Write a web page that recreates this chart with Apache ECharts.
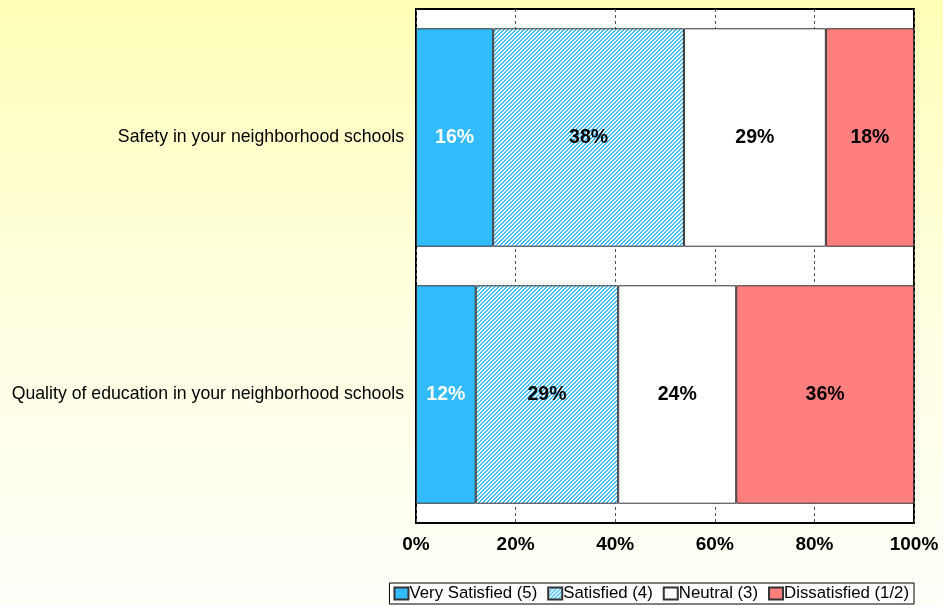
<!DOCTYPE html>
<html>
<head>
<meta charset="utf-8">
<style>
  html, body { margin: 0; padding: 0; }
  #chart { width: 943px; height: 605px; background: linear-gradient(to bottom, #ffffb8 0%, #ffffe0 50%, #fffffa 100%); }
</style>
<script src="https://cdn.jsdelivr.net/npm/echarts@6/dist/echarts.min.js"></script>
</head>
<body>
<div id="chart"></div>
<script>
// Survey items (top to bottom)
const categories = [
  'Safety in your neighborhood schools',
  'Quality of education in your neighborhood schools'
];
// Share of respondents per rating, in percent
const verySatisfied = [15.5, 12.0];
const satisfied = [38.3, 28.6];
const neutral = [28.5, 23.7];
const dissatisfied = [17.7, 35.7];
const seriesNames = ['Very Satisfied (5)', 'Satisfied (4)', 'Neutral (3)', 'Dissatisfied (1/2)'];
const xTicks = [0, 20, 40, 60, 80, 100];

// Diagonal light-blue hatch used for "Satisfied"
function hatchPattern() {
  const c = document.createElement('canvas');
  c.width = 4; c.height = 4;
  const ctx = c.getContext('2d');
  ctx.fillStyle = '#ffffff';
  ctx.fillRect(0, 0, 4, 4);
  ctx.fillStyle = '#44c2ff';
  for (let x = 0; x < 4; x++) {
    for (let y = 0; y < 4; y++) {
      if ((x + y) % 4 < 2) ctx.fillRect(x, y, 1, 1);
    }
  }
  return c;
}

const chart = echarts.init(document.getElementById('chart'), null, { renderer: 'canvas' });

const FONT = 'Liberation Sans, Arial, sans-serif';
const fills = ['#33bbff', { image: hatchPattern(), repeat: 'repeat' }, '#ffffff', '#ff7f7f'];
const labelColors = ['#ffffff', '#000000', '#000000', '#000000'];
const values = [verySatisfied, satisfied, neutral, dissatisfied];

const series = seriesNames.map((name, i) => ({
  name: name,
  type: 'bar',
  stack: 'total',
  barCategoryGap: '15%',
  data: values[i],
  itemStyle: { color: fills[i], borderColor: '#333333', borderWidth: 1 },
  label: {
    show: true,
    position: 'inside',
    color: labelColors[i],
    fontFamily: FONT,
    fontWeight: 'bold',
    fontSize: 19.5,
    formatter: p => Math.round(p.value) + '%'
  },
  emphasis: { disabled: true }
}));

chart.setOption({
  animation: false,
  backgroundColor: 'transparent',
  grid: {
    left: 416, top: 9, width: 498, height: 514,
    show: true, backgroundColor: '#ffffff', borderColor: '#000000', borderWidth: 2,
    containLabel: false
  },
  xAxis: {
    type: 'value',
    min: xTicks[0], max: xTicks[xTicks.length - 1], interval: 20,
    axisLine: { show: false },
    axisTick: { show: false },
    splitLine: { show: true, lineStyle: { color: '#555555', type: [3, 3], width: 1 } },
    axisLabel: {
      margin: 12,
      color: '#000000',
      fontFamily: FONT,
      fontWeight: 'bold',
      fontSize: 19,
      formatter: v => v + '%'
    }
  },
  yAxis: {
    type: 'category',
    inverse: true,
    data: categories,
    axisLine: { show: false },
    axisTick: { show: false },
    axisLabel: {
      margin: 12,
      color: '#000000',
      fontFamily: FONT,
      fontSize: 17.7
    }
  },
  legend: {
    right: 29, bottom: 1,
    orient: 'horizontal',
    backgroundColor: '#ffffff',
    borderColor: '#000000',
    borderWidth: 1,
    borderRadius: 0,
    padding: [2, 5, 2, 4],
    itemGap: 10,
    itemWidth: 14,
    itemHeight: 12,
    icon: 'rect',
    selectedMode: false,
    textStyle: {
      color: '#000000',
      fontFamily: FONT,
      fontSize: 16.8,
      padding: [0, 0, 0, -4]
    },
    data: seriesNames
  },
  series: series
});
</script>
</body>
</html>
